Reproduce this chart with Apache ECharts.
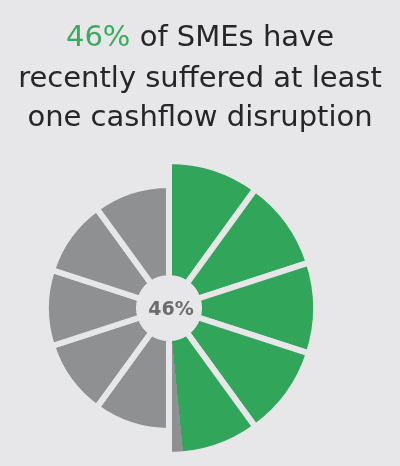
<!DOCTYPE html>
<html>
<head>
<meta charset="utf-8">
<script src="https://cdn.jsdelivr.net/npm/echarts@6/dist/echarts.min.js"></script>
<style>
html,body{margin:0;padding:0;background:#e7e7e9;}
#c{width:400px;height:466px;}
</style>
</head>
<body>
<div id="c"></div>
<script>
// ---- data ----
const shareLabel = '46%';
const titleLines = ['of SMEs have', 'recently suffered at least', 'one cashflow disruption'];
const greenSegments = [1, 1, 1, 1, 1];   // right half, 10% wedges
const greySegments = [1, 1, 1, 1, 1];    // left half, 10% wedges
const greenEndDeg = 174.4;               // where green stops inside the 5th wedge (clockwise from top)

// ---- style ----
const BG = '#e7e7e9', GREEN = '#31a55a', GREY = '#8e9092';
const FONT = '"DejaVu Sans", "Liberation Sans", sans-serif';
const C = [169, 308];

const chart = echarts.init(document.getElementById('c'), null, {renderer: 'canvas'});

// gradient splitting the last green wedge into green + grey sliver
const a = (180 - greenEndDeg) * Math.PI / 180;
const n = [Math.cos(a), -Math.sin(a)];
const L = 150;
const splitFill = new echarts.graphic.LinearGradient(
  C[0] - n[0] * L, C[1] - n[1] * L, C[0] + n[0] * L, C[1] + n[1] * L,
  [{offset: 0, color: GREY}, {offset: 0.5, color: GREY}, {offset: 0.5, color: GREEN}, {offset: 1, color: GREEN}],
  true
);

const sum = arr => arr.reduce((s, v) => s + v, 0);
const gap = {borderColor: BG, borderWidth: 6};

const greenData = greenSegments.map((v, i) => ({
  value: v,
  itemStyle: Object.assign({color: i === greenSegments.length - 1 ? splitFill : GREEN}, gap)
}));
greenData.push({value: sum(greySegments), itemStyle: {color: 'rgba(0,0,0,0)', borderWidth: 0}});

const greyData = [{value: sum(greenSegments), itemStyle: {color: 'rgba(0,0,0,0)', borderWidth: 0}}]
  .concat(greySegments.map(v => ({value: v, itemStyle: Object.assign({color: GREY}, gap)})));

const lineStyle = {fontFamily: FONT, fontSize: 29, fill: '#262626', align: 'center', verticalAlign: 'middle'};

chart.setOption({
  backgroundColor: BG,
  animation: false,
  series: [
    {
      type: 'pie', silent: true, center: C, radius: [30, 147], startAngle: 90, clockwise: true,
      label: {show: false}, labelLine: {show: false}, data: greenData
    },
    {
      type: 'pie', silent: true, center: C, radius: [30, 123], startAngle: 90, clockwise: true,
      label: {show: false}, labelLine: {show: false}, data: greyData
    }
  ],
  graphic: [
    {
      type: 'text', x: 200, y: 38, silent: true,
      style: Object.assign({}, lineStyle, {
        text: '{g|' + shareLabel + '} ' + titleLines[0],
        rich: {g: {fill: '#3aaa5c', fontFamily: FONT, fontSize: 29}}
      })
    },
    {type: 'text', x: 200, y: 79, silent: true, style: Object.assign({}, lineStyle, {text: titleLines[1]})},
    {type: 'text', x: 200, y: 118, silent: true, style: Object.assign({}, lineStyle, {text: titleLines[2]})},
    {
      type: 'text', x: C[0] + 2, y: C[1] + 2, silent: true,
      style: {text: shareLabel, fontFamily: FONT, fontWeight: 'bold', fontSize: 19, fill: '#6b6b6d', align: 'center', verticalAlign: 'middle'}
    }
  ]
});
</script>
</body>
</html>
